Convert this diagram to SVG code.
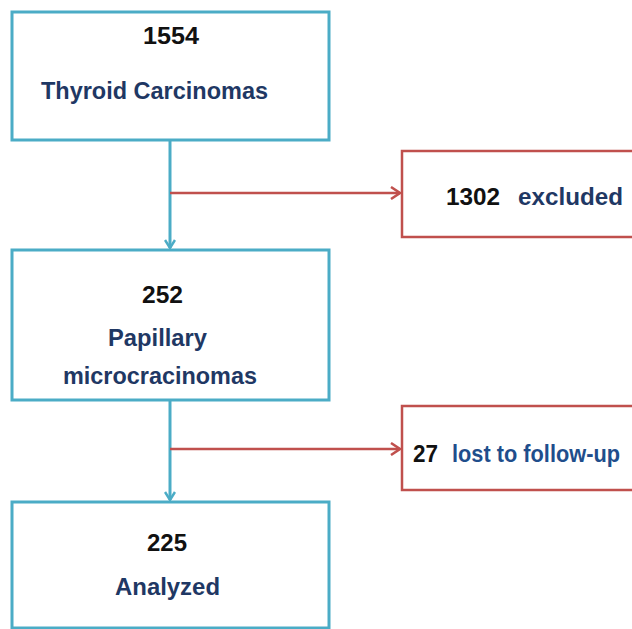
<svg xmlns="http://www.w3.org/2000/svg" width="632" height="629" viewBox="0 0 632 629">
<style>
.bb{fill:#fff;stroke:#4BACC6;stroke-width:3}
.rb{fill:#fff;stroke:#C0504D;stroke-width:2.5}
.bl{stroke:#4BACC6;stroke-width:3;fill:none}
.rl{stroke:#C0504D;stroke-width:2.5;fill:none}
text{font-family:"Liberation Sans",Arial,sans-serif;font-weight:bold;font-size:24px}
.n{fill:#111}
.w{fill:#1F3864}
.w2{fill:#1F4E8C}
</style>
<defs>
<marker id="ab" markerWidth="12" markerHeight="12" refX="10" refY="6" orient="auto" markerUnits="userSpaceOnUse">
<path d="M2,1 L10,6 L2,11" fill="none" stroke="#4BACC6" stroke-width="2.5"/>
</marker>
<marker id="ar" markerWidth="14" markerHeight="14" refX="12" refY="7" orient="auto" markerUnits="userSpaceOnUse">
<path d="M3,1 L12,7 L3,13" fill="none" stroke="#C0504D" stroke-width="2.5"/>
</marker>
</defs>
<g id="connectors">
<line class="bl" x1="170" y1="140" x2="170" y2="248" marker-end="url(#ab)"/>
<line class="rl" x1="170" y1="193" x2="400" y2="193" marker-end="url(#ar)"/>
<line class="bl" x1="170" y1="400" x2="170" y2="500" marker-end="url(#ab)"/>
<line class="rl" x1="170" y1="449" x2="400" y2="449" marker-end="url(#ar)"/>
</g>
<g id="n1">
<rect class="bb" x="12" y="12" width="317" height="128"/>
<text class="n" x="143" y="44" textLength="56" lengthAdjust="spacingAndGlyphs">1554</text>
<text class="w" x="41" y="99" textLength="227" lengthAdjust="spacingAndGlyphs">Thyroid Carcinomas</text>
</g>
<g id="n2">
<rect class="rb" x="402" y="151" width="240" height="86"/>
<text class="n" x="446" y="205" textLength="54" lengthAdjust="spacingAndGlyphs">1302</text>
<text class="w" x="518" y="205" textLength="105" lengthAdjust="spacingAndGlyphs">excluded</text>
</g>
<g id="n3">
<rect class="bb" x="12" y="250" width="317" height="150"/>
<text class="n" x="142" y="303" textLength="41" lengthAdjust="spacingAndGlyphs">252</text>
<text class="w" x="108" y="346" textLength="99" lengthAdjust="spacingAndGlyphs">Papillary</text>
<text class="w" x="63" y="384" textLength="194" lengthAdjust="spacingAndGlyphs">microcracinomas</text>
</g>
<g id="n4">
<rect class="rb" x="402" y="406" width="240" height="84"/>
<text class="n" x="413" y="462" textLength="25" lengthAdjust="spacingAndGlyphs">27</text>
<text class="w2" x="452" y="462" textLength="168" lengthAdjust="spacingAndGlyphs">lost to follow-up</text>
</g>
<g id="n5">
<rect class="bb" x="12" y="502" width="317" height="126"/>
<text class="n" x="147" y="551" textLength="40" lengthAdjust="spacingAndGlyphs">225</text>
<text class="w" x="115" y="595" textLength="105" lengthAdjust="spacingAndGlyphs">Analyzed</text>
</g>
</svg>
